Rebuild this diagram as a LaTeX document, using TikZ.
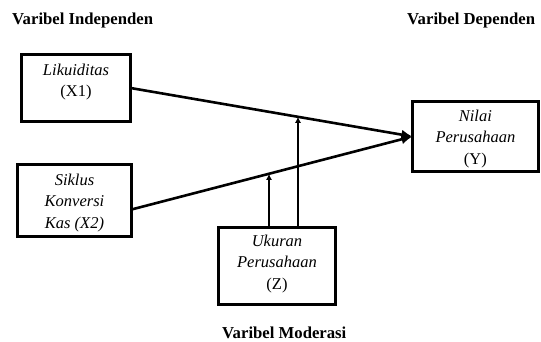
\documentclass[tikz,border=0pt]{standalone}
\usepackage{fontspec}
\setmainfont{Liberation Serif}
\usetikzlibrary{arrows.meta,calc}
\begin{document}
\begin{tikzpicture}[x=1pt,y=-1pt,
  varbox/.style={draw=black,line width=3pt,minimum width=#1,inner sep=0pt,outer sep=0pt},
  boxtext/.style={align=center,inner sep=0pt,font=\fontsize{16.5}{21.5}\selectfont\itshape},
  head/.style={anchor=base west,inner sep=0pt,font=\fontsize{16.7}{20}\selectfont\bfseries},
  conn/.style={line width=2.6pt},
  bigtip/.style={-{Latex[length=11pt,width=10pt]}},
  smalltip/.style={-{Latex[length=6pt,width=6pt]}}]
\useasboundingbox (0,0) rectangle (541,342);
% headers
\node[head] (hi) at (12,25) {Varibel Independen};
\node[head] (hd) at (407,25) {Varibel Dependen};
\node[head] (hm) at (222,338) {Varibel Moderasi};
% boxes
\node[varbox=109pt,minimum height=67pt] (x1) at (76,88) {};
\node[varbox=114pt,minimum height=72pt] (x2) at (74.5,200.5) {};
\node[varbox=126pt,minimum height=70pt] (y) at (475.4,136.5) {};
\node[varbox=117pt,minimum height=77pt] (z) at (277,266) {};
% box texts
\node[boxtext] (tx1) at (76,82) {Likuiditas\\\upshape(X1)};
\node[boxtext] (tx2) at (74.5,203) {Siklus\\Konversi\\Kas (X2)};
\node[boxtext] (ty) at (475.4,139) {Nilai\\Perusahaan\\\upshape(Y)};
\node[boxtext] (tz) at (277,264) {Ukuran\\Perusahaan\\\upshape(Z)};
% connectors
\coordinate (x2out) at ([yshift=-9pt]x2.east);
\draw[conn,bigtip] (x1.east) -- (y.west);
\draw[conn,bigtip] (x2out) -- (y.west);
\coordinate (za) at ([xshift=-8pt]z.north);
\coordinate (zb) at ([xshift=21pt]z.north);
\path (x1.east) -- (y.west) coordinate[pos=0.593] (m1);
\path (x2out) -- (y.west) coordinate[pos=0.489] (m2);
\draw[conn,smalltip] (zb) -- (zb |- m1);
\draw[conn,smalltip] (za) -- (za |- m2);
\end{tikzpicture}
\end{document}
